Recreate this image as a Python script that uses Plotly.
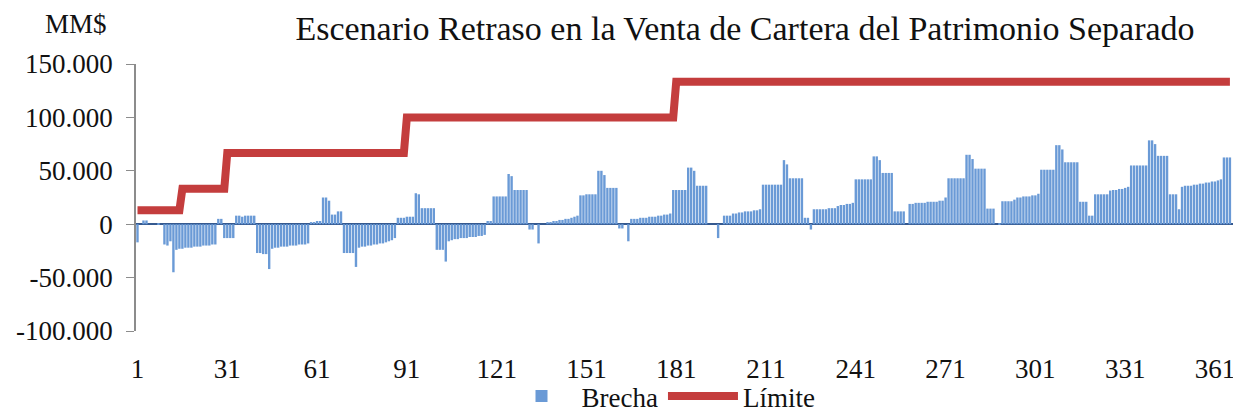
import plotly.graph_objects as go

# ---- data (MM$ thousands per day) ----
brecha_miles = [
    -17, 0, 3.5, 3.5, 0, 0, 0, 1, 0, -19, -20, -16, -45, -24, -23,
    -23, -22, -22, -22, -21, -21, -21, -20, -20, -20, -19, -19, 5, 5, -13,
    -13, -13, -13, 8, 8, 7, 8, 8, 8, 8, -27, -27, -28, -28, -42,
    -23, -22, -22, -21, -21, -21, -20, -20, -20, -19, -19, -19, -18, 2, 2,
    3, 3, 25, 25, 22, 9, 9, 12, 12, -27, -27, -27, -27, -40, -22,
    -21, -21, -20, -20, -19, -19, -18, -18, -17, -16, -15, -13, 6, 6, 6,
    7, 7, 7, 29, 28, 15, 15, 15, 15, 15, -24, -24, -24, -35, -16,
    -15, -14, -14, -13, -13, -13, -12, -12, -12, -11, -11, -10, 3, 3, 26,
    26, 26, 26, 26, 47, 45, 32, 32, 32, 32, 32, -5, -5, 0, -18,
    0, 0, 2, 2, 3, 3, 4, 4, 5, 5, 6, 7, 8, 27, 27,
    28, 28, 28, 28, 50, 50, 46, 34, 34, 34, 34, -4, -4, 0, -16,
    5, 5, 5, 6, 6, 6, 7, 7, 7, 8, 8, 9, 9, 10, 32,
    32, 32, 32, 32, 53, 53, 50, 36, 36, 36, 36, 0, 0, 0, -13,
    0, 8, 8, 8, 10, 10, 11, 11, 12, 12, 12, 13, 13, 14, 37,
    37, 37, 37, 37, 37, 37, 60, 56, 43, 43, 43, 43, 43, 6, 6,
    -5, 14, 14, 14, 14, 14, 15, 15, 15, 17, 18, 18, 19, 19, 20,
    42, 42, 42, 42, 42, 42, 63.5, 63.5, 60, 48, 48, 48, 48, 12, 12,
    12, 12, 0, 19, 19, 20, 20, 20, 20, 21, 21, 21, 21, 22, 22,
    25, 43, 43, 43, 43, 43, 43, 65, 65, 61, 52, 52, 52, 52, 14.6,
    14.6, 14.6, 0, 1, 21.5, 21.5, 21.5, 21.5, 23, 25, 25, 26, 26, 26, 27,
    27, 28.5, 51, 51, 51, 51, 51, 74, 74, 70, 58, 58, 58, 58, 58,
    21, 21, 21, 8, 8, 28, 28, 28, 28, 28, 31.5, 32, 32, 33, 33,
    34, 35, 55, 55, 55, 55, 55, 55, 78.5, 78.5, 75, 64, 64, 64, 64,
    28, 28, 28, 14, 35, 36, 36, 36, 37, 37, 38, 38, 39, 39, 40,
    40, 41, 42, 62.5, 62.5, 62.5,
]
dias = list(range(1, len(brecha_miles) + 1))

limite_niveles = [13000, 33300, 66700, 100000, 133300]
limite_desde = [1, 16, 31, 91, 181]

x_ticks = [1, 31, 61, 91, 121, 151, 181, 211, 241, 271, 301, 331, 361]
y_ticks = [-100000, -50000, 0, 50000, 100000, 150000]
y_ticktext = ["-100.000", "-50.000", "0", "50.000", "100.000", "150.000"]

# ---- build ----
brecha = [v * 1000 for v in brecha_miles]
limite = []
for d in dias:
    lvl = limite_niveles[0]
    for start, val in zip(limite_desde, limite_niveles):
        if d >= start:
            lvl = val
    limite.append(lvl)

FONT = "Liberation Serif"
# the page adds an 8px body margin, so the figure is 8px smaller than the window
W, H = 1233, 406

fig = go.Figure()
fig.add_trace(go.Bar(
    x=dias, y=brecha, name="Brecha",
    marker=dict(color="#6a9ad6", line=dict(width=0)),
))
fig.add_trace(go.Scatter(
    x=dias, y=limite, name="Límite", mode="lines",
    line=dict(color="#c43d3d", width=8),
))

fig.update_layout(
    width=W, height=H,
    margin=dict(l=128, r=6, t=56, b=83, autoexpand=False),
    paper_bgcolor="white", plot_bgcolor="white",
    font=dict(family=FONT, size=27, color="#111"),
    bargap=0.2,
    showlegend=True,
    legend=dict(orientation="h", x=(661 - 136) / 1099, xanchor="center",
                y=-41 / 267, yanchor="top", itemwidth=70,
                font=dict(family=FONT, size=27, color="#111"), traceorder="normal",
                bgcolor="rgba(0,0,0,0)"),
    title=dict(text="Escenario Retraso en la Venta de Cartera del Patrimonio Separado",
               x=737 / W, xanchor="center", y=1 - 20 / H, yanchor="middle",
               xref="container", yref="container",
               font=dict(family=FONT, size=34, color="#111")),
    annotations=[dict(text="MM$", xref="paper", yref="paper",
                      x=(76 - 136) / 1099, y=1 + (64 - 24) / 267,
                      xanchor="center", yanchor="middle", showarrow=False,
                      font=dict(family=FONT, size=27, color="#111"))],
)
fig.update_xaxes(
    range=[0.5, 367.7], tickmode="array", tickvals=x_ticks,
    ticktext=[str(t) for t in x_ticks], showgrid=False, showline=False,
    zeroline=False, ticks="", ticklabelstandoff=19, automargin=False,
    tickfont=dict(family=FONT, size=27, color="#111"),
)
fig.update_yaxes(
    range=[-100000, 150000], tickmode="array", tickvals=y_ticks,
    ticktext=y_ticktext, showgrid=False, showline=True, linecolor="#8c8c8c",
    linewidth=1.5, ticks="outside", ticklen=8, tickcolor="#8c8c8c",
    zeroline=True, zerolinecolor="#35598f", zerolinewidth=2,
    ticklabelstandoff=8, automargin=False,
    tickfont=dict(family=FONT, size=27, color="#111"),
)

fig.write_html("out.html")
